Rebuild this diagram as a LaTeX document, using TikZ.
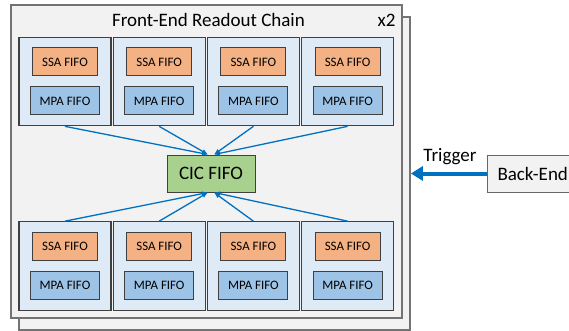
\documentclass[tikz,border=0pt]{standalone}
\usepackage{fontspec}
\setmainfont{Carlito}
\usetikzlibrary{arrows.meta}

\definecolor{framegray}{HTML}{F2F2F2}
\definecolor{modblue}{HTML}{DEEBF7}
\definecolor{ssaorange}{HTML}{F4B183}
\definecolor{mpablue}{HTML}{9DC3E6}
\definecolor{cicgreen}{HTML}{A9D18E}
\definecolor{linkblue}{HTML}{0070C0}

\tikzset{
  frame/.style={draw=black!55, line width=1.8pt, fill=framegray, minimum width=391pt, minimum height=313pt},
  module/.style={draw=black!75, line width=1.2pt, fill=modblue, minimum width=92pt, minimum height=88.5pt},
  fifo/.style={draw=black!75, line width=1pt, inner sep=0pt, minimum height=28pt, font=\fontsize{12.9}{14}\selectfont},
  ssa/.style={fifo, fill=ssaorange, minimum width=65pt},
  mpa/.style={fifo, fill=mpablue, minimum width=69pt},
  bigtext/.style={font=\fontsize{19}{22}\selectfont},
  link/.style={draw=linkblue, line width=1.3pt, -{Latex[length=6pt,width=5pt]}},
}

\begin{document}
\begin{tikzpicture}[x=1pt, y=-1pt]
  \useasboundingbox (0,0) rectangle (569,331);
  \clip (0,0) rectangle (569,331);
  \fill[white] (0,0) rectangle (569,331);
  \node[frame] (back) at (214.5,173.5) {};
  \node[frame] (front) at (206.5,161.5) {};
  \node[bigtext, anchor=base] (title) at (208.5,26.7) {Front-End Readout Chain};
  \node[bigtext, anchor=base east] (copies) at (399,26.7) {x2};
  %% front-end modules, top and bottom row
  \foreach \i in {0,...,3} {
    \node[module] (top\i) at (65+94.2*\i,81.5) {};
    \node[ssa] (topssa\i) at (65+94.2*\i,62) {SSA FIFO};
    \node[mpa] (topmpa\i) at (65+94.2*\i,101) {MPA FIFO};
    \node[module] (bot\i) at (65+94.2*\i,266) {};
    \node[ssa] (botssa\i) at (65+94.2*\i,246.5) {SSA FIFO};
    \node[mpa] (botmpa\i) at (65+94.2*\i,285.5) {MPA FIFO};
  }
  \node[bigtext, draw=black!75, line width=1pt, fill=cicgreen, minimum width=88pt, minimum height=37pt] (cic) at (211,173.5) {CIC FIFO};
  \foreach \i/\s in {0/-3,1/-3,2/3,3/3} {
    \draw[link] (top\i.south) -- ([xshift=\s pt]cic.north);
    \draw[link] (bot\i.north) -- ([xshift=\s pt]cic.south);
  }
  %% back-end and trigger
  \node[bigtext, draw=black!60, line width=1pt, fill=framegray, minimum height=37pt, inner xsep=10pt, text width=80pt, align=left, anchor=west] (backend) at (487,173.5) {Back-End};
  \draw[draw=linkblue, line width=4pt, -{Triangle[length=12pt,width=14pt]}] (backend.west) -- (back.east);
  \node[bigtext] (trig) at (450,157) {Trigger};
\end{tikzpicture}
\end{document}
